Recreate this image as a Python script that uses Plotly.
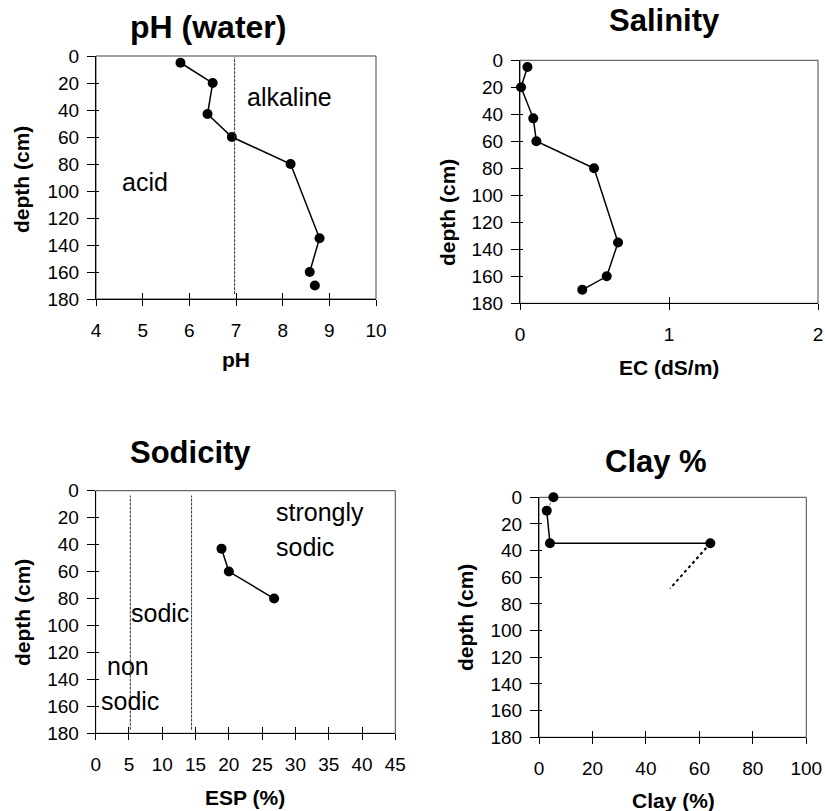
import plotly.graph_objects as go

# ---------------- data ----------------
ph_values = [5.81, 6.50, 6.39, 6.91, 8.17, 8.79, 8.58, None, 8.69]
ph_depths = [5, 20, 43, 60, 80, 135, 160, None, 170]
ph_threshold = [6.97]

ec_values = [0.05, 0.007, 0.089, 0.11, 0.497, 0.658, 0.582, 0.418]
ec_depths = [5, 20, 43, 60, 80, 135, 160, 170]

esp_values = [18.9, 20.0, 26.8]
esp_depths = [43, 60, 80]
esp_thresholds = [5.2, 14.4]

clay_values = [2.9, 4.1, 64.1]
clay_depths = [10, 34.5, 34.5]
clay_top_value = [5.4]
clay_top_depth = [0]
clay_dotted_values = [64.1, 49.0]
clay_dotted_depths = [34.5, 68.5]

ph_ticks = [4, 5, 6, 7, 8, 9, 10]
ec_ticks = [0, 1, 2]
esp_ticks = [0, 5, 10, 15, 20, 25, 30, 35, 40, 45]
clay_ticks = [0, 20, 40, 60, 80, 100]
depth_ticks = [0, 20, 40, 60, 80, 100, 120, 140, 160, 180]

# ---------------- layout helpers ----------------
W, H = 825, 811
FONT = "Liberation Sans, Arial, sans-serif"

def px_x(a, b):
    return [a / W, b / W]

def px_y(top, bottom):
    return [1 - bottom / H, 1 - top / H]

panels = [
    dict(xd=px_x(96, 376), yd=px_y(56, 299), xr=[4, 10], xt=ph_ticks),
    dict(xd=px_x(520, 818), yd=px_y(60.3, 303.3), xr=[0, 2], xt=ec_ticks),
    dict(xd=px_x(95.7, 395.3), yd=px_y(490.7, 733.3), xr=[0, 45], xt=esp_ticks),
    dict(xd=px_x(539, 806.3), yd=px_y(497.3, 737.3), xr=[0, 100], xt=clay_ticks),
]

fig = go.Figure()
layout = dict(
    width=W, height=H, margin=dict(l=0, r=0, t=0, b=0, autoexpand=False),
    paper_bgcolor="white", plot_bgcolor="white", showlegend=False,
    font=dict(family=FONT, color="black"),
)

shapes = []
annotations = []

for i, p in enumerate(panels, start=1):
    xs = "" if i == 1 else str(i)
    ox = str(i + 4)
    common_x = dict(range=p["xr"], tickvals=p["xt"], showgrid=False, zeroline=False,
                    automargin=False)
    common_y = dict(range=[180, 0], tickvals=depth_ticks, showgrid=False, zeroline=False,
                    automargin=False)
    layout["xaxis" + xs] = dict(
        domain=p["xd"], anchor="y" + xs, **common_x,
        showline=True, linecolor="black", linewidth=1,
        ticks="outside", ticklen=6, tickcolor="black", tickwidth=1,
        tickfont=dict(size=19, family=FONT, color="black"), ticklabelstandoff=8,
    )
    layout["yaxis" + xs] = dict(
        domain=p["yd"], anchor="x" + xs, **common_y,
        showline=True, linecolor="black", linewidth=1,
        ticks="outside", ticklen=8, tickcolor="black", tickwidth=1,
        tickfont=dict(size=19, family=FONT, color="black"), ticklabelstandoff=4,
    )
    # overlay axes for the inner half of the cross ticks
    layout["xaxis" + ox] = dict(
        overlaying="x" + xs, anchor="y" + xs, side="bottom", **common_x,
        showline=False, showticklabels=False,
        ticks="inside", ticklen=6, tickcolor="black", tickwidth=1,
    )
    layout["yaxis" + ox] = dict(
        overlaying="y" + xs, anchor="x" + xs, side="left", **common_y,
        showline=False, showticklabels=False,
        ticks="inside", ticklen=3, tickcolor="black", tickwidth=1,
    )
    fig.add_trace(go.Scatter(x=[None], y=[None], xaxis="x" + ox, yaxis="y" + ox,
                             mode="markers", hoverinfo="skip"))
    # frame
    shapes.append(dict(type="rect", xref="x" + xs + " domain", yref="y" + xs + " domain",
                       x0=0, x1=1, y0=0, y1=1, line=dict(color="#444444", width=1),
                       layer="below"))

line_style = dict(color="black", width=1.5)
marker_style = dict(color="black", size=10)

# pH
fig.add_trace(go.Scatter(x=ph_values, y=ph_depths, mode="lines+markers",
                         line=line_style, marker=marker_style, xaxis="x", yaxis="y",
                         connectgaps=False))
# Salinity
fig.add_trace(go.Scatter(x=ec_values, y=ec_depths, mode="lines+markers",
                         line=line_style, marker=marker_style, xaxis="x2", yaxis="y2",
                         cliponaxis=False))
# Sodicity
fig.add_trace(go.Scatter(x=esp_values, y=esp_depths, mode="lines+markers",
                         line=line_style, marker=marker_style, xaxis="x3", yaxis="y3"))
# Clay
fig.add_trace(go.Scatter(x=clay_top_value + clay_values[:1], y=clay_top_depth + clay_depths[:1],
                         mode="lines", line=dict(color="#aaaaaa", width=1.5, dash="dot"),
                         xaxis="x4", yaxis="y4"))
fig.add_trace(go.Scatter(x=clay_dotted_values, y=clay_dotted_depths, mode="lines",
                         line=dict(color="black", width=2, dash="dot"),
                         xaxis="x4", yaxis="y4"))
fig.add_trace(go.Scatter(x=clay_values, y=clay_depths, mode="lines+markers",
                         line=line_style, marker=marker_style, xaxis="x4", yaxis="y4"))
fig.add_trace(go.Scatter(x=clay_top_value, y=clay_top_depth, mode="markers",
                         marker=marker_style, xaxis="x4", yaxis="y4", cliponaxis=False))

# threshold lines
for v in ph_threshold:
    shapes.append(dict(type="line", xref="x", yref="y domain", x0=v, x1=v, y0=0.02, y1=0.995,
                       line=dict(color="#333333", width=1, dash="3px,1px")))
for v in esp_thresholds:
    shapes.append(dict(type="line", xref="x3", yref="y3 domain", x0=v, x1=v, y0=0.015, y1=0.98,
                       line=dict(color="#333333", width=1, dash="3px,1px")))

def ann(text, x, y, size, bold=False, angle=0, xref="paper", yref="paper", xanchor="center"):
    if xref == "paper":
        x = x / W
    if yref == "paper":
        y = 1 - y / H
    annotations.append(dict(
        text=("<b>%s</b>" % text) if bold else text, x=x, y=y, xref=xref, yref=yref,
        showarrow=False, textangle=angle, xanchor=xanchor, yanchor="middle",
        font=dict(size=size, family=FONT, color="black")))

# titles
ann("pH (water)", 208, 27, 32, bold=True)
ann("Salinity", 664, 21, 31, bold=True)
ann("Sodicity", 190, 452, 31, bold=True)
ann("Clay %", 656, 461, 31, bold=True)

# axis titles
ann("depth (cm)", 22, 180, 21, bold=True, angle=-90)
ann("pH", 236, 360, 21, bold=True)
ann("depth (cm)", 447, 213, 21, bold=True, angle=-90)
ann("EC (dS/m)", 669, 367, 21, bold=True)
ann("depth (cm)", 22, 613, 21, bold=True, angle=-90)
ann("ESP (%)", 245, 797, 21, bold=True)
ann("depth (cm)", 465, 618, 21, bold=True, angle=-90)
ann("Clay (%)", 673, 800, 21, bold=True)

# region labels
ann("alkaline", 8.14, 30, 25, xref="x", yref="y")
ann("acid", 5.06, 93, 25, xref="x", yref="y")
ann("strongly", 26.8, 16, 25, xref="x3", yref="y3", xanchor="left")
ann("sodic", 26.8, 42, 25, xref="x3", yref="y3", xanchor="left")
ann("sodic", 5.0, 91, 25, xref="x3", yref="y3", xanchor="left")
ann("non", 4.9, 130, 25, xref="x3", yref="y3")
ann("sodic", 0.5, 156, 25, xref="x3", yref="y3", xanchor="left")

layout["shapes"] = shapes
layout["annotations"] = annotations
fig.update_layout(**layout)

fig.write_html("out.html", config={"displayModeBar": False},
               post_script="document.body.style.margin='0';document.body.style.overflow='hidden';")
